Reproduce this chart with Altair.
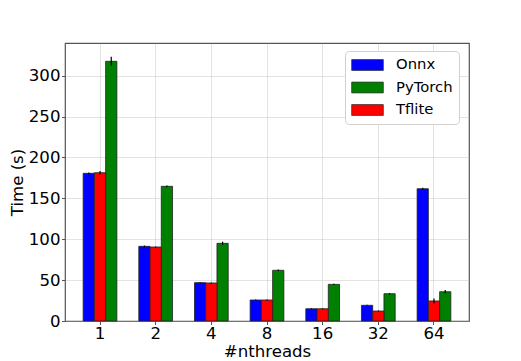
import altair as alt
import pandas as pd

threads = ["1", "2", "4", "8", "16", "32", "64"]
frameworks = ["Onnx", "PyTorch", "Tflite"]
bar_order = ["Onnx", "Tflite", "PyTorch"]
colors = ["#0000ff", "#008000", "#ff0000"]

onnx = [180.6, 91.3, 46.9, 25.7, 15.0, 19.2, 161.8]
pytorch = [317.6, 164.7, 95.0, 62.0, 44.8, 33.4, 35.8]
tflite = [181.4, 90.5, 46.5, 25.7, 15.0, 12.2, 24.5]

onnx_err = [1.0, 1.0, 0.5, 0.5, 0.5, 0.6, 1.2]
pytorch_err = [5.5, 1.0, 2.0, 1.0, 0.8, 0.8, 2.0]
tflite_err = [2.0, 0.6, 0.5, 0.5, 0.5, 0.5, 3.0]

rows = []
for name, vals, errs in [("Onnx", onnx, onnx_err), ("PyTorch", pytorch, pytorch_err), ("Tflite", tflite, tflite_err)]:
    for t, v, e in zip(threads, vals, errs):
        rows.append({"threads": t, "framework": name, "time": v, "lo": v - e, "hi": v + e})
df = pd.DataFrame(rows)

FONT = "DejaVu Sans"

x_enc = alt.X("threads:N", sort=threads,
              scale=alt.Scale(paddingInner=0.394, paddingOuter=0.326),
              axis=alt.Axis(title="#nthreads", labelAngle=0))
xo_enc = alt.XOffset("framework:N", sort=bar_order,
                     scale=alt.Scale(paddingInner=0, paddingOuter=0))

bars = alt.Chart(df).mark_bar(stroke="#222222", strokeWidth=0.8).encode(
    x=x_enc,
    xOffset=xo_enc,
    y=alt.Y("time:Q", scale=alt.Scale(domain=[0, 340], nice=False),
            axis=alt.Axis(title="Time (s)", values=[0, 50, 100, 150, 200, 250, 300])),
    color=alt.Color("framework:N", sort=frameworks,
                    scale=alt.Scale(domain=frameworks, range=colors),
                    legend=alt.Legend(
                        title=None, orient="none", legendX=280, legendY=8,
                        symbolType="M-1,-0.34H1V0.34H-1Z", symbolSize=1000,
                        symbolStrokeColor="#333333", symbolStrokeWidth=0.8,
                        labelFontSize=14.8, labelFont=FONT, labelColor="#000000",
                        labelOffset=12, rowPadding=6.5, padding=6,
                        clipHeight=16,
                        strokeColor="#d0d0d0", fillColor="#ffffff", cornerRadius=4,
                    )),
)

errs = alt.Chart(df).mark_rule(color="#000000", strokeWidth=1.2).encode(
    x=x_enc,
    xOffset=xo_enc,
    y=alt.Y("lo:Q"),
    y2="hi:Q",
)

chart = alt.layer(bars, errs).properties(
    width=404, height=278,
    autosize=alt.AutoSizeParams(type="none"),
    padding={"left": 57, "top": 35, "right": 40, "bottom": 40},
).configure_view(
    stroke="#555555", strokeWidth=1.2
).configure_axis(
    labelFont=FONT, titleFont=FONT, labelFontSize=16.6, titleFontSize=16.6,
    labelColor="#000000", titleColor="#000000", titleFontWeight="normal",
    domain=False, tickColor="#555555", tickSize=3.5, tickWidth=1,
    grid=True, gridColor="#b0b0b0", gridOpacity=0.45, gridWidth=0.8,
    zindex=1,
).configure_axisY(
    labelPadding=1.5, titlePadding=3,
).configure_axisX(
    labelPadding=1, titlePadding=1.5,
)

chart.save("out.html", embed_options={"renderer": "svg", "actions": False})
